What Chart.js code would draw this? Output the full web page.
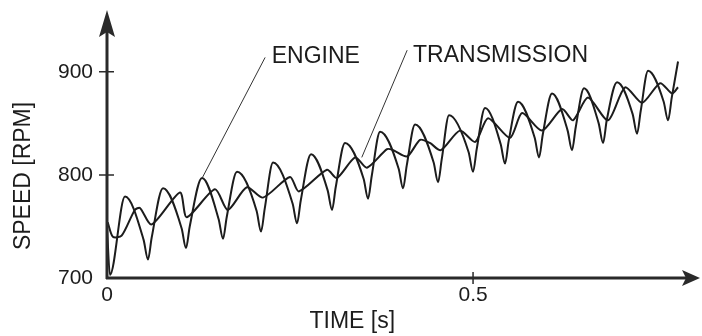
<!DOCTYPE html>
<html>
<head>
<meta charset="utf-8">
<script src="https://cdn.jsdelivr.net/npm/chart.js@4/dist/chart.umd.min.js"></script>
<style>
  html, body { margin: 0; padding: 0; background: #fff; }
  #wrap { width: 702px; height: 336px; }
</style>
</head>
<body>
<div id="wrap"><canvas id="speedChart" width="702" height="336"></canvas></div>
<script>
// time [s] and speed [RPM] (troughs carry their steep flanks)
const engineTime = [0, 0.004, 0.0246,
  0.050, 0.056, 0.061, 0.0765,
  0.102, 0.1079, 0.113, 0.1298,
  0.1525, 0.1585, 0.1635, 0.1776,
  0.2044, 0.2104, 0.2154, 0.2268,
  0.2536, 0.2596, 0.2646, 0.2787,
  0.3014, 0.3074, 0.3124, 0.3251,
  0.3506, 0.3566, 0.3616, 0.373,
  0.3984, 0.4044, 0.4094, 0.4208,
  0.4462, 0.4522, 0.4572, 0.4672,
  0.494, 0.5, 0.505, 0.5164,
  0.5377, 0.5437, 0.5487, 0.5615,
  0.5842, 0.5902, 0.5952, 0.6079,
  0.6292, 0.6352, 0.6402, 0.6516,
  0.6716, 0.6776, 0.6826, 0.6967,
  0.718, 0.724, 0.729, 0.7391,
  0.7604, 0.7664, 0.7714, 0.780];
const engineRpm = [749, 703, 779,
  737, 718, 739, 787,
  748, 729, 750, 797,
  757, 738, 759, 803,
  765, 745, 767, 812,
  772, 753, 775, 820,
  785, 766, 788, 831,
  796, 777, 799, 842,
  806, 787, 809, 849,
  812, 793, 815, 858,
  822, 803, 825, 865,
  830, 811, 833, 871,
  836, 817, 839, 879,
  843, 824, 846, 884,
  850, 831, 853, 890,
  859, 840, 862, 901,
  871, 853, 875, 910];

const transTime = [0.001, 0.008, 0.020, 0.038, 0.045, 0.061, 0.0997, 0.109, 0.1475, 0.165,
  0.191, 0.213, 0.250, 0.262, 0.3005, 0.314, 0.339, 0.355, 0.3825, 0.391,
  0.410, 0.4276, 0.441, 0.456, 0.482, 0.503, 0.5205, 0.5505, 0.567, 0.594,
  0.6216, 0.6366, 0.657, 0.6844, 0.7077, 0.7309, 0.7555, 0.772, 0.780];
const transRpm = [754, 740, 741, 766, 768, 752, 783, 759, 786, 766,
  788, 778, 798, 784, 805, 797, 817, 807, 825, 824,
  818, 834, 831, 824, 843, 832, 855, 836, 860, 843,
  864, 853, 875, 853, 885, 870, 889, 879, 885];

const xTicks = [0, 0.5];
const yTicks = [700, 800, 900];
const xLimits = [0, 0.81];
const yLimits = [700, 960];

// labels pinned to data positions: [time, rpm]
const labelNotes = [
  { text: 'ENGINE', at: [0.225, 909], from: [0.216, 914], to: [0.130, 797] },
  { text: 'TRANSMISSION', at: [0.418, 910], from: [0.410, 921], to: [0.348, 817] }
];

const ink = '#1c1c1c';
const labelFont = '23px "Liberation Sans", Arial, sans-serif';

const toPoints = (ts, vs) => ts.map((t, i) => ({ x: t, y: vs[i] }));

const axisDecor = {
  id: 'axisDecor',
  afterDraw(chart) {
    const { ctx, chartArea: a, scales: { x, y } } = chart;
    ctx.save();
    ctx.strokeStyle = '#2a2a2a';
    ctx.fillStyle = '#2a2a2a';

    // axis lines
    ctx.lineWidth = 3;
    ctx.beginPath();
    ctx.moveTo(a.left, a.bottom + 1);
    ctx.lineTo(a.left, a.top + 20);
    ctx.moveTo(a.left - 1, a.bottom);
    ctx.lineTo(a.right - 14, a.bottom);
    ctx.stroke();

    // arrow heads
    ctx.beginPath();
    ctx.moveTo(a.left, a.top);
    ctx.lineTo(a.left - 8, a.top + 27);
    ctx.lineTo(a.left, a.top + 22);
    ctx.lineTo(a.left + 8, a.top + 27);
    ctx.closePath();
    ctx.fill();
    ctx.beginPath();
    ctx.moveTo(a.right, a.bottom);
    ctx.lineTo(a.right - 18, a.bottom - 8);
    ctx.lineTo(a.right - 14, a.bottom);
    ctx.lineTo(a.right - 18, a.bottom + 8);
    ctx.closePath();
    ctx.fill();

    // tick marks crossing the axes
    ctx.lineWidth = 1.5;
    ctx.beginPath();
    yTicks.slice(1).forEach(v => {
      const py = y.getPixelForValue(v);
      ctx.moveTo(a.left - 8, py);
      ctx.lineTo(a.left + 7, py);
    });
    xTicks.slice(1).forEach(v => {
      const px = x.getPixelForValue(v);
      ctx.moveTo(px, a.bottom - 6);
      ctx.lineTo(px, a.bottom + 6);
    });
    ctx.stroke();

    // axis titles
    ctx.fillStyle = ink;
    ctx.font = labelFont;
    ctx.textAlign = 'center';
    ctx.textBaseline = 'middle';
    ctx.fillText('TIME [s]', x.getPixelForValue(0.335), 322);
    ctx.save();
    ctx.translate(23, y.getPixelForValue(799));
    ctx.rotate(-Math.PI / 2);
    ctx.fillText('SPEED [RPM]', 0, 1);
    ctx.restore();

    // series labels with leader lines
    ctx.textAlign = 'left';
    ctx.textBaseline = 'alphabetic';
    ctx.strokeStyle = '#333';
    ctx.lineWidth = 1;
    labelNotes.forEach(n => {
      ctx.fillText(n.text, x.getPixelForValue(n.at[0]), y.getPixelForValue(n.at[1]));
      ctx.beginPath();
      ctx.moveTo(x.getPixelForValue(n.from[0]), y.getPixelForValue(n.from[1]));
      ctx.lineTo(x.getPixelForValue(n.to[0]), y.getPixelForValue(n.to[1]));
      ctx.stroke();
    });
    ctx.restore();
  }
};

new Chart(document.getElementById('speedChart'), {
  type: 'line',
  data: {
    datasets: [
      {
        label: 'Engine',
        data: toPoints(engineTime, engineRpm),
        borderColor: ink,
        borderWidth: 2,
        pointRadius: 0,
        cubicInterpolationMode: 'monotone'
      },
      {
        label: 'Transmission',
        data: toPoints(transTime, transRpm),
        borderColor: ink,
        borderWidth: 2,
        pointRadius: 0,
        tension: 0.25
      }
    ]
  },
  options: {
    responsive: false,
    animation: false,
    layout: { padding: { top: 10, right: 2, left: 0, bottom: 0 } },
    plugins: {
      legend: { display: false },
      tooltip: { enabled: false }
    },
    scales: {
      x: {
        type: 'linear',
        min: xLimits[0],
        max: xLimits[1],
        grid: { display: false, drawTicks: false },
        border: { display: false },
        afterFit(scale) {
          scale.height = 58;
          scale.paddingLeft = 0;
          scale.paddingRight = 0;
        },
        afterBuildTicks(scale) { scale.ticks = xTicks.map(v => ({ value: v })); },
        ticks: {
          color: ink,
          padding: 5,
          maxRotation: 0,
          font: { family: '"Liberation Sans", Arial, sans-serif', size: 21 },
          callback: v => String(v)
        }
      },
      y: {
        min: yLimits[0],
        max: yLimits[1],
        grid: { display: false, drawTicks: false },
        border: { display: false },
        afterFit(scale) {
          scale.width = 107;
          scale.paddingTop = 0;
          scale.paddingBottom = 0;
        },
        afterBuildTicks(scale) { scale.ticks = yTicks.map(v => ({ value: v })); },
        ticks: {
          color: ink,
          padding: 14,
          font: { family: '"Liberation Sans", Arial, sans-serif', size: 21 },
          callback: v => String(v)
        }
      }
    }
  },
  plugins: [axisDecor]
});
</script>
</body>
</html>
